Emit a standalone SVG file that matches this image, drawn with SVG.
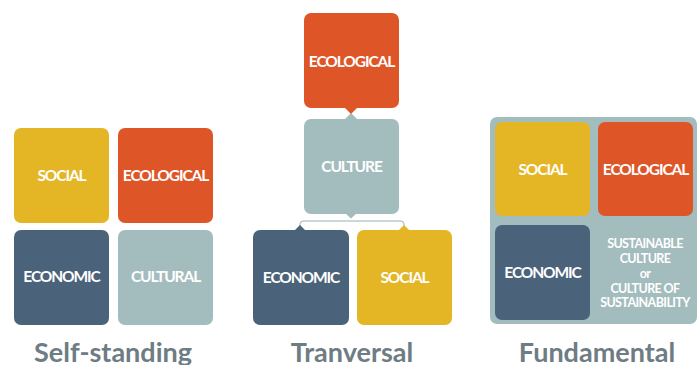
<svg xmlns="http://www.w3.org/2000/svg" width="698" height="365" viewBox="0 0 698 365">
<style>
.lbl{font-family:Lato,"Open Sans","Liberation Sans",sans-serif;font-weight:bold;font-size:15.5px;fill:#fff;text-anchor:middle;letter-spacing:-1.1px}
.small{font-family:Lato,"Open Sans","Liberation Sans",sans-serif;font-weight:bold;font-size:12.5px;fill:#fff;text-anchor:middle;letter-spacing:-0.6px}
.title{font-family:Lato,"Open Sans","Liberation Sans",sans-serif;font-weight:bold;font-size:27px;fill:#6e7c84;text-anchor:middle}
.y{fill:#e4b524}.o{fill:#de5527}.b{fill:#4b637a}.g{fill:#a3bcbe}
</style>
<rect width="698" height="365" fill="#fff"/>
<!-- Self-standing -->
<g id="ss-social"><rect class="y" x="14" y="128" width="95" height="95" rx="7"/><text class="lbl" x="61.5" y="181">SOCIAL</text></g>
<g id="ss-ecological"><rect class="o" x="118" y="128" width="95" height="95" rx="7"/><text class="lbl" x="165.5" y="181">ECOLOGICAL</text></g>
<g id="ss-economic"><rect class="b" x="14" y="230" width="95" height="95" rx="7"/><text class="lbl" x="61.5" y="282">ECONOMIC</text></g>
<g id="ss-cultural"><rect class="g" x="118" y="230" width="95" height="95" rx="7"/><text class="lbl" x="165.5" y="282">CULTURAL</text></g>
<text class="title" x="113" y="362">Self-standing</text>
<!-- Transversal -->
<g id="connectors">
<polygon class="g" points="345,119 351,113 357,119"/>
<polygon class="o" points="345,108 351,114 357,108"/>
<path d="M300,229 V225 Q300,221 304,221 H400 Q404,221 404,225 V229" fill="none" stroke="#b9cccd" stroke-width="1.5"/>
<polygon class="g" points="345,213 351,218.5 357,213"/>
<polygon class="b" points="295,230 300,225 305,230"/>
<polygon class="y" points="399,230 404,225 409,230"/>
</g>
<g id="tr-ecological"><rect class="o" x="304" y="13" width="95" height="95" rx="7"/><text class="lbl" x="351.5" y="67">ECOLOGICAL</text></g>
<g id="tr-culture"><rect class="g" x="304" y="119" width="95" height="95" rx="7"/><text class="lbl" x="351.5" y="172">CULTURE</text></g>
<g id="tr-economic"><rect class="b" x="253" y="230" width="96" height="95" rx="7"/><text class="lbl" x="301" y="283">ECONOMIC</text></g>
<g id="tr-social"><rect class="y" x="357" y="230" width="95" height="95" rx="7"/><text class="lbl" x="404.5" y="283">SOCIAL</text></g>
<text class="title" x="352" y="362">Tranversal</text>
<!-- Fundamental -->
<g id="fu-background"><rect class="g" x="490" y="117" width="207" height="207" rx="7"/>
<text class="small"><tspan x="645" y="248">SUSTAINABLE</tspan><tspan x="645" y="262.5">CULTURE</tspan><tspan x="645" y="277.5">or</tspan><tspan x="645" y="292.5">CULTURE OF</tspan><tspan x="645" y="307">SUSTAINABILITY</tspan></text></g>
<g id="fu-social"><rect class="y" x="495" y="122" width="95" height="94" rx="7"/><text class="lbl" x="542.5" y="175">SOCIAL</text></g>
<g id="fu-ecological"><rect class="o" x="598" y="122" width="95" height="94" rx="7"/><text class="lbl" x="645.5" y="175">ECOLOGICAL</text></g>
<g id="fu-economic"><rect class="b" x="495" y="225" width="95" height="95" rx="7"/><text class="lbl" x="542.5" y="278">ECONOMIC</text></g>
<text class="title" x="597" y="362">Fundamental</text>
</svg>
